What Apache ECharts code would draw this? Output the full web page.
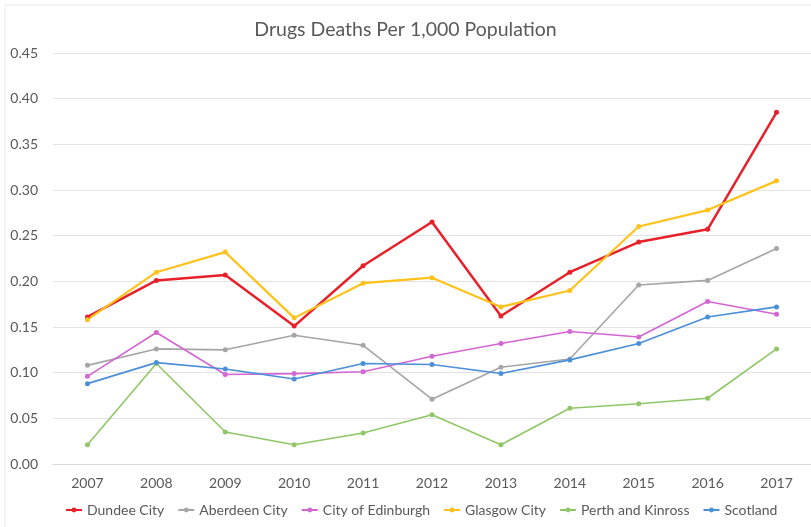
<!DOCTYPE html>
<html>
<head>
<meta charset="utf-8">
<script src="https://cdn.jsdelivr.net/npm/echarts@6/dist/echarts.min.js"></script>
<style>
  html, body { margin: 0; padding: 0; background: #fff; }
  #chart { width: 811px; height: 527px; }
</style>
</head>
<body>
<div id="chart"></div>
<script>
// Drug deaths per 1,000 population, 2007-2017
const years = ['2007', '2008', '2009', '2010', '2011', '2012', '2013', '2014', '2015', '2016', '2017'];

const dundee     = [0.161, 0.201, 0.207, 0.151, 0.217, 0.265, 0.162, 0.210, 0.243, 0.257, 0.385];
const aberdeen   = [0.108, 0.126, 0.125, 0.141, 0.130, 0.071, 0.106, 0.115, 0.196, 0.201, 0.236];
const edinburgh  = [0.096, 0.144, 0.098, 0.099, 0.101, 0.118, 0.132, 0.145, 0.139, 0.178, 0.164];
const glasgow    = [0.158, 0.210, 0.232, 0.160, 0.198, 0.204, 0.172, 0.190, 0.260, 0.278, 0.310];
const perth      = [0.021, 0.110, 0.035, 0.021, 0.034, 0.054, 0.021, 0.061, 0.066, 0.072, 0.126];
const scotland   = [0.088, 0.111, 0.104, 0.093, 0.110, 0.109, 0.099, 0.114, 0.132, 0.161, 0.172];

const yTicks = { min: 0, max: 0.45, interval: 0.05 };

const seriesDefs = [
  { name: 'Dundee City',        data: dundee,    color: '#e8202a', width: 2.5 },
  { name: 'Aberdeen City',      data: aberdeen,  color: '#a5a5a5', width: 1.6 },
  { name: 'City of Edinburgh',  data: edinburgh, color: '#d466d4', width: 1.6 },
  { name: 'Glasgow City',       data: glasgow,   color: '#ffc21a', width: 2.2 },
  { name: 'Perth and Kinross',  data: perth,     color: '#8fc766', width: 1.6 },
  { name: 'Scotland',           data: scotland,  color: '#4a8fd8', width: 1.6 }
];

const textColor = '#595959';
const fontFamily = 'Lato, "Open Sans", "Liberation Sans", sans-serif';

const chart = echarts.init(document.getElementById('chart'), null, { renderer: 'canvas' });
chart.setOption({
  backgroundColor: '#ffffff',
  animation: false,
  textStyle: { fontFamily: fontFamily },
  title: {
    text: 'Drugs Deaths Per 1,000 Population',
    left: 'center',
    top: 15,
    textStyle: { color: textColor, fontSize: 19.5, fontWeight: 'normal', fontFamily: fontFamily }
  },
  // faint chart frame along the top and left edges
  graphic: [{
    type: 'rect',
    shape: { x: 5, y: 5, width: 820, height: 540 },
    style: { fill: 'none', stroke: '#ececec', lineWidth: 1 },
    silent: true
  }],
  grid: { left: 53, right: 0, top: 53, bottom: 63, containLabel: false },
  legend: {
    bottom: 5,
    left: 60,
    itemWidth: 16,
    itemHeight: 6,
    itemGap: 13,
    textStyle: { color: textColor, fontSize: 14, fontFamily: fontFamily },
    data: seriesDefs.map(s => s.name)
  },
  xAxis: {
    type: 'category',
    data: years,
    boundaryGap: true,
    axisLine: { show: true, lineStyle: { color: '#d9d9d9' } },
    axisTick: { show: false },
    axisLabel: { color: textColor, fontSize: 14, margin: 12, fontFamily: fontFamily }
  },
  yAxis: {
    type: 'value',
    min: yTicks.min,
    max: yTicks.max,
    interval: yTicks.interval,
    axisLine: { show: false },
    axisTick: { show: false },
    splitLine: { lineStyle: { color: '#e3e3e3', width: 1 } },
    axisLabel: {
      color: textColor, fontSize: 14, margin: 15, fontFamily: fontFamily,
      formatter: v => v.toFixed(2)
    }
  },
  series: seriesDefs.map(s => ({
    name: s.name,
    type: 'line',
    data: s.data,
    symbol: 'circle',
    symbolSize: 5,
    showSymbol: true,
    lineStyle: { color: s.color, width: s.width },
    itemStyle: { color: s.color },
    emphasis: { disabled: true }
  }))
});
</script>
</body>
</html>
